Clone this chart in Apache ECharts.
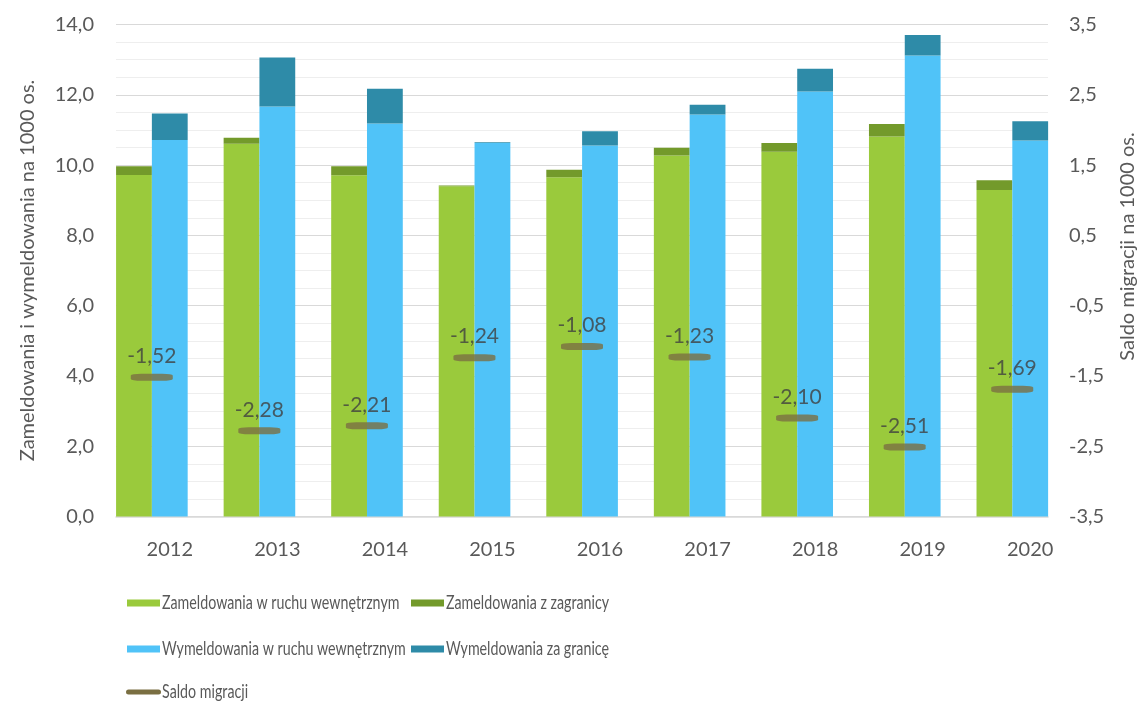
<!DOCTYPE html>
<html>
<head>
<meta charset="utf-8">
<script src="https://cdn.jsdelivr.net/npm/echarts@6/dist/echarts.min.js"></script>
<style>
  html, body { margin: 0; padding: 0; background: #fff; }
  #chart { width: 1146px; height: 701px; }
</style>
</head>
<body>
<div id="chart"></div>
<script>
// lata
var years = ['2012', '2013', '2014', '2015', '2016', '2017', '2018', '2019', '2020'];
// zameldowania (na 1000 os.)
var zamWewn = [9.72, 10.61, 9.71, 9.40, 9.65, 10.27, 10.38, 10.81, 9.29];
var zamZagr = [0.25, 0.17, 0.26, 0.02, 0.22, 0.22, 0.25, 0.36, 0.28];
// wymeldowania (na 1000 os.)
var wymWewn = [10.71, 11.67, 11.18, 10.63, 10.56, 11.44, 12.09, 13.12, 10.70];
var wymZagr = [0.76, 1.39, 0.99, 0.02, 0.40, 0.28, 0.65, 0.58, 0.55];
// saldo migracji
var saldo = [-1.52, -2.28, -2.21, -1.24, -1.08, -1.23, -2.10, -2.51, -1.69];

var names = [
  'Zameldowania w ruchu wewnętrznym',
  'Zameldowania z zagranicy',
  'Wymeldowania w ruchu wewnętrznym',
  'Wymeldowania za granicę',
  'Saldo migracji'
];
var colors = ['#9aca3c', '#739a2b', '#50c3f8', '#2e8ba8', '#7a6f42'];

var font = 'Lato';
var txt = '#595959';

function comma(v, d) {
  return v.toFixed(d).replace('.', ',');
}

var chart = echarts.init(document.getElementById('chart'));

// legenda rysowana recznie (czcionka zwezona jak Calibri)
function legendEntry(i, x, y, isLine) {
  var icon = isLine
    ? {type: 'rect', shape: {x: x, y: y - 2.5, width: 35, height: 5, r: 2.5}, style: {fill: colors[i]}}
    : {type: 'rect', shape: {x: x, y: y - 3.5, width: 33, height: 7}, style: {fill: colors[i]}};
  return [
    icon,
    {
      type: 'text', x: x + (isLine ? 36 : 35), y: y, scaleX: 0.77,
      style: {text: names[i], fill: txt, fontSize: 18.5, fontFamily: font,
        textAlign: 'left', textVerticalAlign: 'middle'}
    }
  ];
}

var graphics = []
  .concat(legendEntry(0, 127, 603, false))
  .concat(legendEntry(1, 411, 603, false))
  .concat(legendEntry(2, 127, 649, false))
  .concat(legendEntry(3, 411, 649, false))
  .concat(legendEntry(4, 126, 692, true));

function barSeries(i, stack, data) {
  return {
    name: names[i], type: 'bar', stack: stack,
    xAxisIndex: 1, yAxisIndex: 2, barWidth: 35.8, barGap: '0%',
    itemStyle: {color: colors[i]}, data: data
  };
}

var option = {
  animation: false,
  backgroundColor: '#fff',
  textStyle: {fontFamily: font},
  graphic: graphics,
  grid: [
    {left: 116, right: 98, top: 24.5, height: 492},
    {left: 116, right: 62, top: 24.5, height: 492}
  ],
  xAxis: [
    {
      type: 'category', gridIndex: 0, data: years,
      axisLine: {lineStyle: {color: '#d9d9d9', width: 1.5}},
      axisTick: {show: false},
      axisLabel: {show: false}
    },
    {
      type: 'category', gridIndex: 1, data: years,
      axisLine: {show: false},
      axisTick: {show: false},
      axisLabel: {color: txt, fontSize: 20, fontFamily: font, margin: 23}
    }
  ],
  yAxis: [
    {
      type: 'value', gridIndex: 0, position: 'left',
      min: 0, max: 14, interval: 2,
      name: 'Zameldowania i wymeldowania na 1000 os.',
      nameLocation: 'middle', nameRotate: 90, nameGap: 78,
      nameTextStyle: {color: txt, fontSize: 20, fontFamily: font},
      axisLine: {show: false},
      axisTick: {show: false},
      axisLabel: {color: txt, fontSize: 20, fontFamily: font, margin: 22,
        formatter: function (v) { return comma(v, 1); }},
      splitLine: {lineStyle: {color: '#d9d9d9', width: 1}},
      minorTick: {show: false, splitNumber: 4},
      minorSplitLine: {show: true, lineStyle: {color: '#eeeeee', width: 1}}
    },
    {
      type: 'value', gridIndex: 0, position: 'right',
      min: -3.5, max: 3.5, interval: 1,
      name: 'Saldo migracji na 1000 os.',
      nameLocation: 'middle', nameRotate: 90, nameGap: 70,
      nameTextStyle: {color: txt, fontSize: 20, fontFamily: font, padding: [0, 0, 0, 48]},
      axisLine: {show: false},
      axisTick: {show: false},
      splitLine: {show: false},
      axisLabel: {color: txt, fontSize: 20, fontFamily: font, margin: 21,
        formatter: function (v) { return comma(v, 1); }}
    },
    {type: 'value', gridIndex: 1, min: 0, max: 14, show: false, splitLine: {show: false}},
    {type: 'value', gridIndex: 1, min: -3.5, max: 3.5, show: false, splitLine: {show: false}}
  ],
  series: [
    barSeries(0, 'zam', zamWewn),
    barSeries(1, 'zam', zamZagr),
    barSeries(2, 'wym', wymWewn),
    barSeries(3, 'wym', wymZagr),
    {
      // pusta trzecia kolumna (jak w oryginale)
      name: 'pad', type: 'bar', stack: 'pad',
      xAxisIndex: 1, yAxisIndex: 2, barWidth: 35.8, barGap: '0%',
      data: []
    },
    {
      name: names[4], type: 'scatter',
      xAxisIndex: 1, yAxisIndex: 3,
      symbol: 'roundRect', symbolSize: [42, 7], symbolOffset: [-18, 0],
      itemStyle: {color: colors[4]},
      label: {
        show: true, position: 'top', distance: 7,
        color: '#404040', fontSize: 21, fontFamily: font,
        formatter: function (p) { return comma(p.value, 2); }
      },
      data: saldo
    }
  ]
};

chart.setOption(option);
</script>
</body>
</html>
